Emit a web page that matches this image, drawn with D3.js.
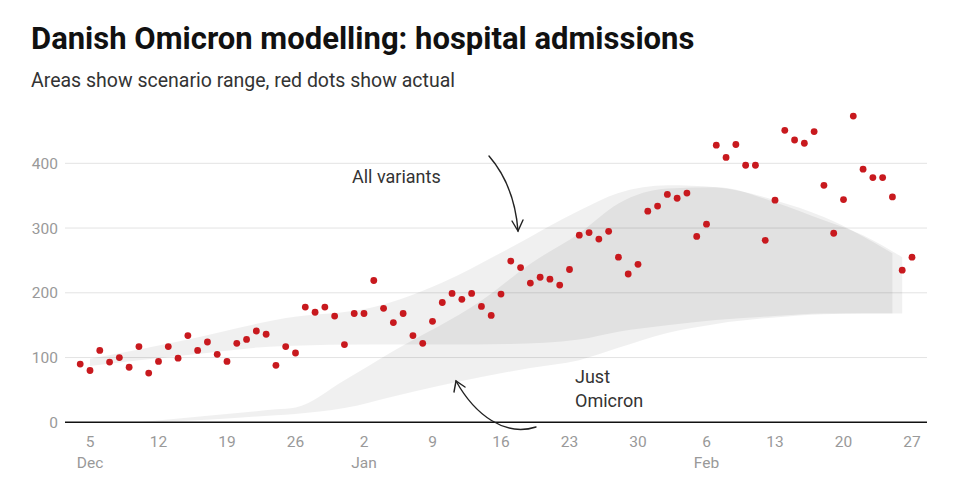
<!DOCTYPE html>
<html><head><meta charset="utf-8">
<script src="https://cdn.jsdelivr.net/npm/d3@7"></script>
<style>html,body{margin:0;padding:0;background:#fff;}svg{display:block;font-family:Roboto,"Noto Sans",sans-serif;}</style>
</head><body><svg id="c" width="968" height="490"></svg>
<script>
// ---- data ----
const actualStart = "2021-12-04";
const actualValues = [90,80,111,93,100,85,117,76,94,117,99,134,111,124,105,94,122,128,141,136,88,117,107,
178,170,178,164,120,168,168,219,176,154,168,134,122,156,185,199,190,199,179,165,198,249,239,215,224,221,212,236,
289,293,283,295,255,229,244,326,334,352,346,354,287,306,428,409,429,397,397,281,343,451,436,431,449,366,292,344,
473,391,378,378,348,235,255];

const allDates = ["2021-12-05","2021-12-15","2021-12-25","2022-01-03","2022-01-10","2022-01-17","2022-01-24","2022-01-28","2022-02-02","2022-02-07","2022-02-13","2022-02-18","2022-02-25"];
const allLow  = [87,104,118,120,120,121,128,140,150,158,164,168,168];
const allHigh = [98,128,161,178,216,270,327,354,366,363,343,317,261];

const omiDates = ["2021-12-10","2021-12-17","2021-12-24","2021-12-26","2021-12-31","2022-01-05","2022-01-14","2022-01-19","2022-01-24","2022-01-28","2022-02-02","2022-02-07","2022-02-13","2022-02-18","2022-02-22","2022-02-26"];
const omiLow  = [0,4,11,13,22,40,70,84,96,115,138,152,162,167,168,168];
const omiHigh = [0,10,20,23,65,110,188,245,292,338,361,363,340,312,289,255];

const yTicks = [0,100,200,300,400];
const xTickStart = "2021-12-05", xTickEnd = "2022-02-27";
const monthLabels = {"2021-12-05":"Dec","2022-01-02":"Jan","2022-02-06":"Feb"};

const title = "Danish Omicron modelling: hospital admissions";
const subtitle = "Areas show scenario range, red dots show actual";

// ---- drawing ----
const parse = d3.utcParse("%Y-%m-%d");
const svg = d3.select("#c");
const x = d3.scaleUtc().domain([parse(xTickStart), parse(xTickEnd)]).range([90, 912]);
const y = d3.scaleLinear().domain([0, 400]).range([422.3, 163.3]);
const plotL = 65, plotR = 927;

svg.append("text").attr("x", 31).attr("y", 49).attr("font-size", 31).attr("font-weight", 700)
  .attr("fill", "#111").text(title);
svg.append("text").attr("x", 31).attr("y", 87).attr("font-size", 19.5).attr("fill", "#333").text(subtitle);

// gridlines
svg.append("g").selectAll("line").data(yTicks.filter(d => d > 0)).join("line")
  .attr("x1", plotL).attr("x2", plotR).attr("y1", d => y(d)).attr("y2", d => y(d))
  .attr("stroke", "#e3e3e3").attr("stroke-width", 1);
svg.append("g").selectAll("text").data(yTicks).join("text")
  .attr("x", 58).attr("y", d => y(d) + 5.5).attr("text-anchor", "end")
  .attr("font-size", 15.5).attr("fill", "#999").text(d => d);

// areas
const mk = (dates, lo, hi) => dates.map((d, i) => ({d: parse(d), lo: lo[i], hi: hi[i]}));
const area = d3.area().x(p => x(p.d)).y0(p => y(p.lo)).y1(p => y(p.hi)).curve(d3.curveMonotoneX);
svg.append("path").datum(mk(omiDates, omiLow, omiHigh)).attr("d", area).attr("fill", "#000").attr("fill-opacity", 0.06);
svg.append("path").datum(mk(allDates, allLow, allHigh)).attr("d", area).attr("fill", "#000").attr("fill-opacity", 0.06);

// axis line
svg.append("line").attr("x1", plotL).attr("x2", plotR).attr("y1", y(0)).attr("y2", y(0))
  .attr("stroke", "#111").attr("stroke-width", 1.5);

// x ticks
const ticks = d3.utcDays(parse(xTickStart), d3.utcDay.offset(parse(xTickEnd), 1), 7);
const fmtKey = d3.utcFormat("%Y-%m-%d");
const xg = svg.append("g");
xg.selectAll("text.d").data(ticks).join("text").attr("class", "d")
  .attr("x", d => x(d)).attr("y", 447).attr("text-anchor", "middle")
  .attr("font-size", 15.5).attr("fill", "#999").text(d => d.getUTCDate());
xg.selectAll("text.m").data(ticks.filter(d => monthLabels[fmtKey(d)])).join("text").attr("class", "m")
  .attr("x", d => x(d)).attr("y", 468).attr("text-anchor", "middle")
  .attr("font-size", 15.5).attr("fill", "#999").text(d => monthLabels[fmtKey(d)]);

// dots
const s0 = parse(actualStart);
const pts = actualValues.map((v, i) => ({d: d3.utcDay.offset(s0, i), v}));
svg.append("g").selectAll("circle").data(pts).join("circle")
  .attr("cx", p => x(p.d)).attr("cy", p => y(p.v)).attr("r", 3.4).attr("fill", "#c8191e");

// annotations
svg.append("text").attr("x", 352).attr("y", 183).attr("font-size", 18).attr("fill", "#333").text("All variants");
svg.append("text").attr("x", 575).attr("y", 383).attr("font-size", 18).attr("fill", "#333").text("Just");
svg.append("text").attr("x", 575).attr("y", 407).attr("font-size", 18).attr("fill", "#333").text("Omicron");

const arrow = svg.append("g").attr("fill", "none").attr("stroke", "#222").attr("stroke-width", 1.4).attr("stroke-linecap", "round");
const p1 = d3.path(); p1.moveTo(489, 156); p1.bezierCurveTo(508, 178, 516, 205, 518, 231);
arrow.append("path").attr("d", p1.toString());
arrow.append("path").attr("d", "M512,221 L518,231 L523,220");
const p2 = d3.path(); p2.moveTo(536, 427); p2.bezierCurveTo(505, 437, 475, 415, 456, 381);
arrow.append("path").attr("d", p2.toString());
arrow.append("path").attr("d", "M454,392 L456,381 L465,387");
</script></body></html>
